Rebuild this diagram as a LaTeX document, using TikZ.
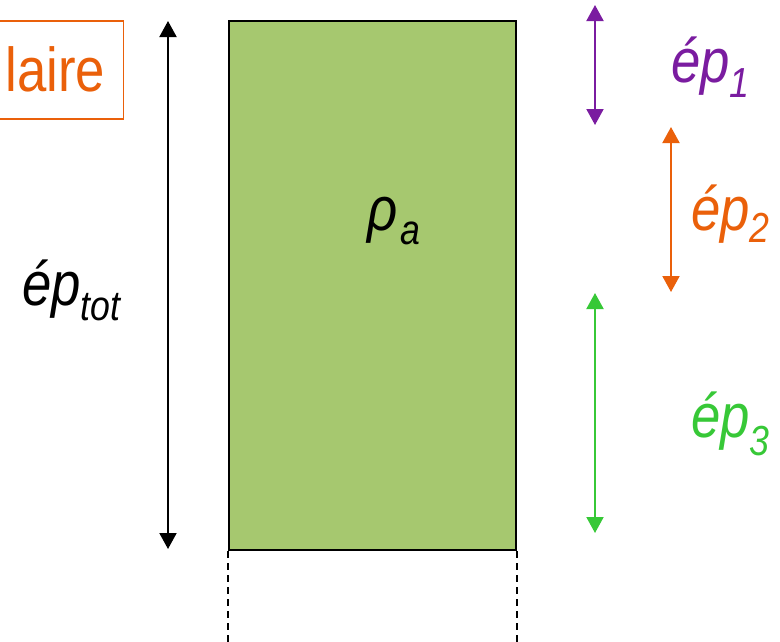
\documentclass[tikz,border=0pt]{standalone}
\usepackage{fontspec}
\setmainfont{Liberation Sans}[FakeStretch=0.85]
\usepackage{xcolor}
\usepackage{tikz}
\usetikzlibrary{positioning, arrows.meta, calc}

\definecolor{vertcouche}{RGB}{166,200,111}
\definecolor{violetep}{RGB}{122,28,160}
\definecolor{orangeep}{RGB}{234,96,10}
\definecolor{vertep}{RGB}{55,200,55}

\newcommand{\indice}[2][15pt]{\raisebox{-#1}{\fontsize{42}{50}\selectfont #2}}

\tikzset{
    lbl/.style={font=\fontsize{62}{70}\selectfont\itshape, inner sep=0pt, anchor=base west},
    cote/.style={line width=2pt, {Triangle[width=17pt,length=16pt]}-{Triangle[width=17pt,length=16pt]}},
}

\begin{document}
\begin{tikzpicture}[x=1pt, y=-1pt]
    \useasboundingbox (0,0) rectangle (780,641);
    \clip (0,0) rectangle (780,641);
    \begin{scope}
        % Layer
        \node[draw, line width=2pt, fill=vertcouche, minimum width=287pt, minimum height=529pt, anchor=north west, inner sep=0pt] (couche) at (228,20) {};
        \foreach \c in {south west, south east} {
            \draw[line width=1.8pt, dash pattern=on 7pt off 5pt] (couche.\c) -- ++(0,95);
        }
        \node[lbl] (rhoa) at (367,230) {ρ\kern3pt\indice[14pt]{a}};
        % Framed title (cut by the edge)
        \node[draw=orangeep, line width=1.5pt, text=orangeep, font=\fontsize{62}{70}\selectfont,
              minimum height=98pt, text width=200pt, inner xsep=18pt, align=right, anchor=north east] (titre) at (124,20) {laire};
        % Total thickness
        \coordinate (tot-haut) at (168,21);
        \coordinate (tot-bas) at (168,549);
        \draw[cote] (tot-haut) -- (tot-bas);
        \node[lbl] (eptot) at (22,305) {ép\indice{tot}};
        % Partial thicknesses
        \coordinate (ep1-haut) at (595,5);
        \coordinate (ep1-bas) at (595,125);
        \draw[cote, violetep] (ep1-haut) -- (ep1-bas);
        \node[lbl, text=violetep] (ep1) at (671,82) {ép\indice{1}};
        \coordinate (ep2-haut) at (671,127);
        \coordinate (ep2-bas) at (671,292);
        \draw[cote, orangeep] (ep2-haut) -- (ep2-bas);
        \node[lbl, text=orangeep] (ep2) at (691,230) {ép\indice[12pt]{2}};
        \coordinate (ep3-haut) at (595,293);
        \coordinate (ep3-bas) at (595,533);
        \draw[cote, vertep] (ep3-haut) -- (ep3-bas);
        \node[lbl, text=vertep] (ep3) at (691,437) {ép\indice[18pt]{3}};
    \end{scope}
\end{tikzpicture}
\end{document}
